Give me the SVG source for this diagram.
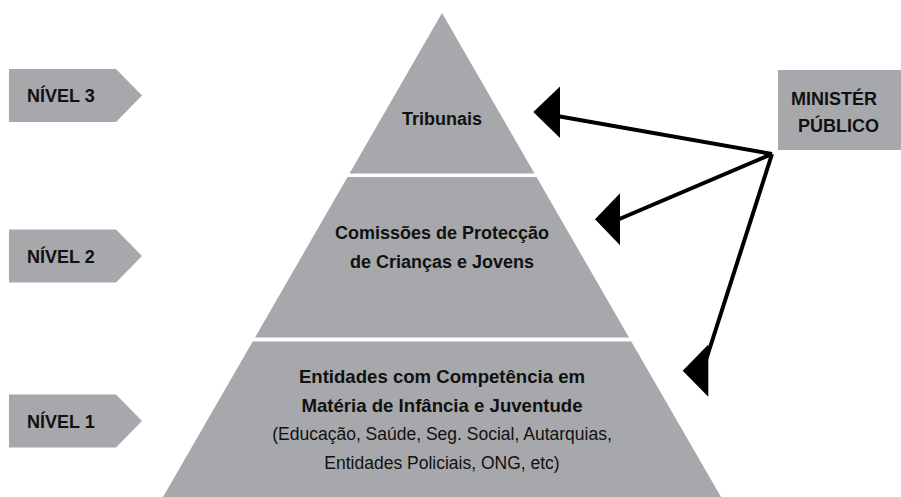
<svg xmlns="http://www.w3.org/2000/svg" width="901" height="497" viewBox="0 0 901 497">
<style>
.tier{fill:#a7a8ab}
.lab{fill:#a7a8ab}
.b{font-family:"Liberation Sans",Arial,sans-serif;font-weight:bold;font-size:18px;fill:#111}
.r{font-family:"Liberation Sans",Arial,sans-serif;font-size:17.5px;fill:#111}
.ln{stroke:#000;stroke-width:4;fill:none}
.hd{fill:#000}
</style>
<rect width="901" height="497" fill="#fff"/>
<g id="tier-tribunais">
<polygon class="tier" points="442,13 534.5,173.5 349.5,173.5"/>
<text class="b" x="442" y="125" text-anchor="middle">Tribunais</text>
</g>
<g id="tier-comissoes">
<polygon class="tier" points="347.5,177 536.5,177 629,337.5 255,337.5"/>
<text class="b" x="442" y="239" text-anchor="middle">Comissões de Protecção</text>
<text class="b" x="442" y="268" text-anchor="middle">de Crianças e Jovens</text>
</g>
<g id="tier-entidades">
<polygon class="tier" points="252.7,341.5 631.3,341.5 721,497 163,497"/>
<text class="b" x="442" y="383" text-anchor="middle" style="font-size:18.6px">Entidades com Competência em</text>
<text class="b" x="442" y="412" text-anchor="middle" style="font-size:18.6px">Matéria de Infância e Juventude</text>
<text class="r" x="442" y="440" text-anchor="middle">(Educação, Saúde, Seg. Social, Autarquias,</text>
<text class="r" x="442" y="469" text-anchor="middle">Entidades Policiais, ONG, etc)</text>
</g>
<g id="nivel3">
<polygon class="lab" points="9,69 116,69 142,95.5 116,122 9,122"/>
<text class="b" x="27" y="102">NÍVEL 3</text>
</g>
<g id="nivel2">
<polygon class="lab" points="9,229.5 116,229.5 142,256 116,282.5 9,282.5"/>
<text class="b" x="27" y="263">NÍVEL 2</text>
</g>
<g id="nivel1">
<polygon class="lab" points="9,394.5 116,394.5 142,421 116,447.5 9,447.5"/>
<text class="b" x="27" y="428">NÍVEL 1</text>
</g>
<g id="ministerio">
<rect class="lab" x="778" y="70" width="123" height="80"/>
<text class="b" x="791" y="105">MINISTÉR</text>
<text class="b" x="798" y="132">PÚBLICO</text>
</g>
<g id="connectors">
<line class="ln" x1="772" y1="154" x2="550" y2="114.7"/>
<polygon class="hd" points="533.3,112 560,86.5 560,138"/>
<line class="ln" x1="772" y1="154" x2="610" y2="223"/>
<polygon class="hd" points="595,219.3 620,193.3 620,245.3"/>
<line class="ln" x1="772" y1="154" x2="706" y2="360"/>
<polygon class="hd" points="682.7,370.7 708.3,344.5 708.3,396.7"/>
</g>
</svg>
